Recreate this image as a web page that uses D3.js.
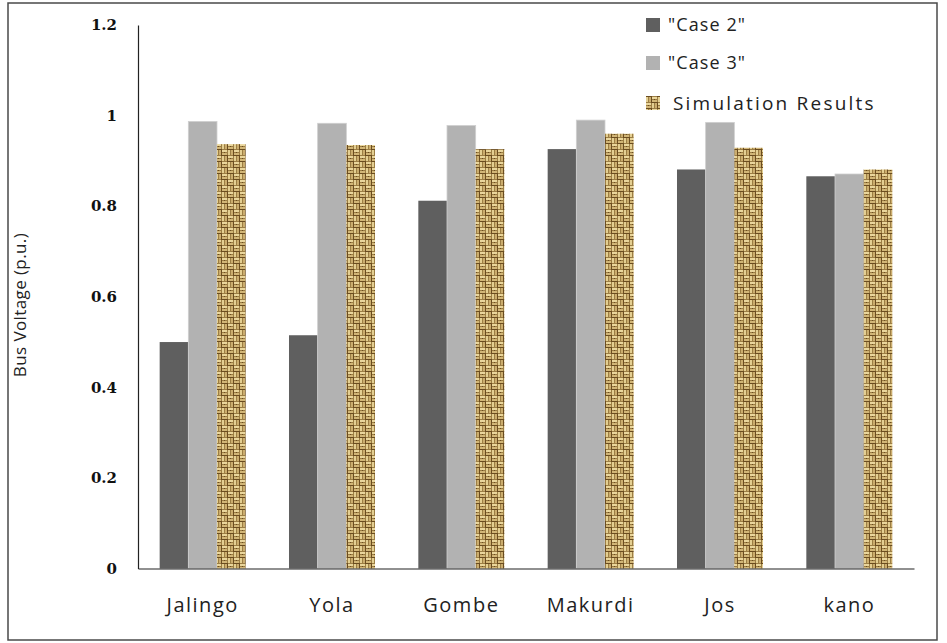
<!DOCTYPE html>
<html>
<head>
<meta charset="utf-8">
<script src="https://cdn.jsdelivr.net/npm/d3@7"></script>
<style>
  html, body { margin: 0; padding: 0; background: #fff; }
  svg { display: block; }
</style>
</head>
<body>
<svg id="chart" width="947" height="643"></svg>
<script>
// Bus voltages (p.u.) per bus for each case
const categories = ["Jalingo", "Yola", "Gombe", "Makurdi", "Jos", "kano"];
const seriesNames = ["\"Case 2\"", "\"Case 3\"", "Simulation Results"];
const case2 = [0.500, 0.515, 0.812, 0.926, 0.881, 0.866];
const case3 = [0.987, 0.983, 0.978, 0.990, 0.985, 0.871];
const simulation = [0.937, 0.935, 0.926, 0.960, 0.929, 0.881];
const yTicks = [0, 0.2, 0.4, 0.6, 0.8, 1, 1.2];
const yTickLabels = ["0", "0.2", "0.4", "0.6", "0.8", "1", "1.2"];

const seriesValues = [case2, case3, simulation];

const svg = d3.select("#chart");
const defs = svg.append("defs");

// Woven burlap texture for the simulation bars
const pat = defs.append("pattern")
  .attr("id", "weave")
  .attr("patternUnits", "userSpaceOnUse")
  .attr("width", 12).attr("height", 12);
pat.append("rect").attr("width", 12).attr("height", 12).attr("fill", "#9c7e44");
const strands = [
  // horizontal strands (top-left & bottom-right blocks)
  [0, 0, 5, 2, "#ead69c"], [0, 3, 5, 2, "#d2b677"],
  [6, 6, 5, 2, "#ead69c"], [6, 9, 5, 2, "#d2b677"],
  // vertical strands (top-right & bottom-left blocks)
  [6, 0, 2, 5, "#e4cf92"], [9, 0, 2, 5, "#cbad6e"],
  [0, 6, 2, 5, "#e4cf92"], [3, 6, 2, 5, "#cbad6e"]
];
strands.forEach(s => pat.append("rect")
  .attr("x", s[0]).attr("y", s[1]).attr("width", s[2]).attr("height", s[3]).attr("fill", s[4]));
const gaps = [[0, 5, 6, 1], [6, 11, 6, 1], [11, 0, 1, 6], [5, 6, 1, 6], [2, 2, 1, 1], [8, 8, 1, 1]];
gaps.forEach(g => pat.append("rect")
  .attr("x", g[0]).attr("y", g[1]).attr("width", g[2]).attr("height", g[3]).attr("fill", "#6a4c20"));

const fills = ["#5f5f5f", "#b2b2b2", "url(#weave)"];

// Outer frame
svg.append("rect")
  .attr("x", 8).attr("y", 3).attr("width", 929).attr("height", 637)
  .attr("fill", "none").attr("stroke", "#4a4a4a").attr("stroke-width", 1.5);

const plot = { left: 138, right: 914, top: 25, bottom: 568.5 };

const x = d3.scaleBand()
  .domain(categories)
  .range([plot.left, plot.right])
  .paddingInner(0.335)
  .paddingOuter(0.1675);

const xs = d3.scaleBand()
  .domain(d3.range(seriesNames.length))
  .range([0, x.bandwidth()])
  .padding(0);

const y = d3.scaleLinear()
  .domain([0, 1.2])
  .range([plot.bottom, plot.top]);

// Bars
seriesValues.forEach((vals, si) => {
  svg.append("g").selectAll("rect")
    .data(vals)
    .join("rect")
    .attr("x", (d, i) => x(categories[i]) + xs(si))
    .attr("y", d => y(d))
    .attr("width", xs.bandwidth())
    .attr("height", d => y(0) - y(d))
    .attr("fill", fills[si])
    .attr("stroke", si === 1 ? "#cfcfcf" : "none")
    .attr("stroke-width", si === 1 ? 0.8 : 0);
});

// Y axis
const yAxis = d3.axisLeft(y)
  .tickValues(yTicks)
  .tickFormat((d, i) => yTickLabels[i])
  .tickSize(0)
  .tickPadding(21);
const gy = svg.append("g")
  .attr("transform", `translate(${plot.left},0)`)
  .call(yAxis);
gy.select(".domain").attr("stroke", "#222").attr("stroke-width", 1.2);
gy.selectAll("text")
  .attr("font-family", "'DejaVu Serif', 'Liberation Serif', serif")
  .attr("font-weight", "bold")
  .attr("font-size", 15)
  .attr("fill", "#111");

// X axis
const xAxis = d3.axisBottom(x).tickSize(0).tickPadding(29);
const gx = svg.append("g")
  .attr("transform", `translate(0,${plot.bottom})`)
  .call(xAxis);
gx.select(".domain").attr("stroke", "#222").attr("stroke-width", 1.2);
gx.selectAll("text")
  .attr("font-family", "'Open Sans', 'DejaVu Sans', sans-serif")
  .attr("font-size", 20)
  .attr("letter-spacing", 1.5)
  .attr("fill", "#222");

// Y axis title
svg.append("text")
  .attr("transform", "translate(26,305) rotate(-90)")
  .attr("text-anchor", "middle")
  .attr("font-family", "'Open Sans', 'DejaVu Sans', sans-serif")
  .attr("font-size", 17)
  .attr("letter-spacing", 0.4)
  .attr("fill", "#222")
  .text("Bus Voltage (p.u.)");

// Legend
const legend = svg.append("g").attr("transform", "translate(646,0)");
const legendY = [25, 63, 103];
seriesNames.forEach((name, i) => {
  const g = legend.append("g").attr("transform", `translate(0,${legendY[i]})`);
  g.append("rect")
    .attr("x", 0).attr("y", -7).attr("width", 14).attr("height", 14)
    .attr("fill", fills[i]);
  g.append("text")
    .attr("x", i === 2 ? 27 : 22)
    .attr("y", 0)
    .attr("dy", "0.35em")
    .attr("font-family", "'Open Sans', 'DejaVu Sans', sans-serif")
    .attr("font-size", i === 2 ? 19 : 18)
    .attr("letter-spacing", i === 2 ? 2.2 : 1.1)
    .attr("fill", "#222")
    .text(name);
});
</script>
</body>
</html>
